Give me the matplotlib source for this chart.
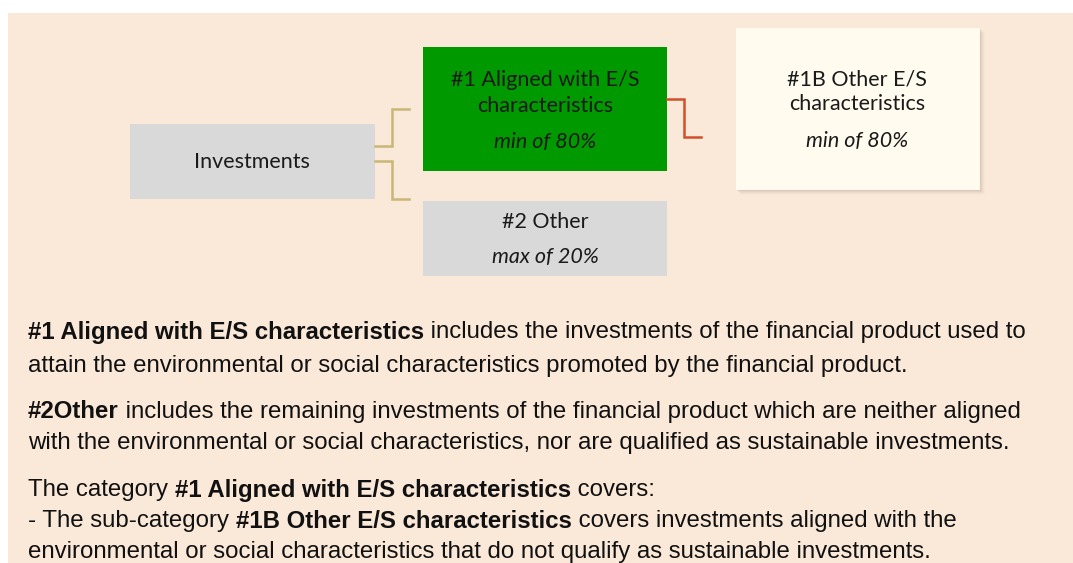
import matplotlib
matplotlib.use("Agg")
import matplotlib.pyplot as plt
from matplotlib.patches import Rectangle

# ---- content ----
root_label = "Investments"
aligned_label = ["#1 Aligned with E/S", "characteristics"]
aligned_share = "min of 80%"
other_label = "#2 Other"
other_share = "max of 20%"
sub_label = ["#1B Other E/S", "characteristics"]
sub_share = "min of 80%"

para1 = [("#1 Aligned with E/S characteristics", True),
         (" includes the investments of the financial product used to", False)]
para1b = [("attain the environmental or social characteristics promoted by the financial product.", False)]
para2 = [("#2Other", True),
         (" includes the remaining investments of the financial product which are neither aligned", False)]
para2b = [("with the environmental or social characteristics, nor are qualified as sustainable investments.", False)]
para3 = [("The category ", False), ("#1 Aligned with E/S characteristics", True), (" covers:", False)]
para3b = [("- The sub-category ", False), ("#1B Other E/S characteristics", True),
          (" covers investments aligned with the", False)]
para3c = [("environmental or social characteristics that do not qualify as sustainable investments.", False)]
body_lines = [para1, para1b, para2, para2b, para3, para3b, para3c]

W, H = 1073, 563
fig = plt.figure(figsize=(W / 100, H / 100), dpi=100)
ax = fig.add_axes([0, 0, 1, 1])
ax.set_xlim(0, W)
ax.set_ylim(H, 0)
ax.axis("off")

BG = "#FAE8D8"
ax.add_patch(Rectangle((8, 13), W, H, facecolor=BG, edgecolor="none", zorder=0))

box_font = ["Lato", "DejaVu Sans"]
bfs = 15.5

# boxes
ax.add_patch(Rectangle((130, 124), 245, 75, facecolor="#D9D9D9", edgecolor="none", zorder=2))
ax.add_patch(Rectangle((423, 47), 244, 124, facecolor="#009900", edgecolor="none", zorder=2))
ax.add_patch(Rectangle((423, 201), 244, 75, facecolor="#D9D9D9", edgecolor="none", zorder=2))
# shadow for 1B box
for i, a in enumerate([0.10, 0.08, 0.06, 0.04, 0.02]):
    d = 1 + i
    ax.add_patch(Rectangle((736 + d, 28 + d), 244, 162, facecolor="#8a7a6a", alpha=a,
                           edgecolor="none", zorder=1))
ax.add_patch(Rectangle((736, 28), 244, 162, facecolor="#FFFBEF", edgecolor="none", zorder=2))

# connectors
tan = "#C8B878"
ax.plot([375, 392, 392, 409], [146, 146, 109, 109], color=tan, lw=1.8, zorder=3,
        solid_joinstyle="miter")
ax.plot([375, 392, 392, 409], [161, 161, 199, 199], color=tan, lw=1.8, zorder=3,
        solid_joinstyle="miter")
ax.plot([667, 684, 684, 701], [99, 99, 137, 137], color="#D0502C", lw=1.8, zorder=3,
        solid_joinstyle="miter")

tk = dict(ha="center", va="center", fontsize=bfs, family=box_font, color="#1a1a1a", zorder=4)
ax.text(252, 162, root_label, **tk)
ax.text(545, 80, aligned_label[0], **tk)
ax.text(545, 106, aligned_label[1], **tk)
ax.text(545, 142, aligned_share, style="italic", **tk)
ax.text(545, 222, other_label, **tk)
ax.text(545, 257, other_share, style="italic", **tk)
ax.text(857, 79, sub_label[0], **tk)
ax.text(857, 104, sub_label[1], **tk)
ax.text(857, 141, sub_share, style="italic", **tk)

# body text
fig.canvas.draw()
renderer = fig.canvas.get_renderer()
inv = ax.transData.inverted()
body_font = ["Liberation Sans", "DejaVu Sans"]
body_fs = 17.3
line_y = [332, 366, 412, 443, 490, 521, 552]
for segs, y in zip(body_lines, line_y):
    x = 28
    for s, bold in segs:
        t = ax.text(x, y, s, ha="left", va="center", fontsize=body_fs, family=body_font,
                    fontweight="bold" if bold else "normal", color="#111111", zorder=4)
        bb = t.get_window_extent(renderer=renderer)
        x = inv.transform((bb.x1, bb.y0))[0]

fig.savefig("out.png", dpi=100)
